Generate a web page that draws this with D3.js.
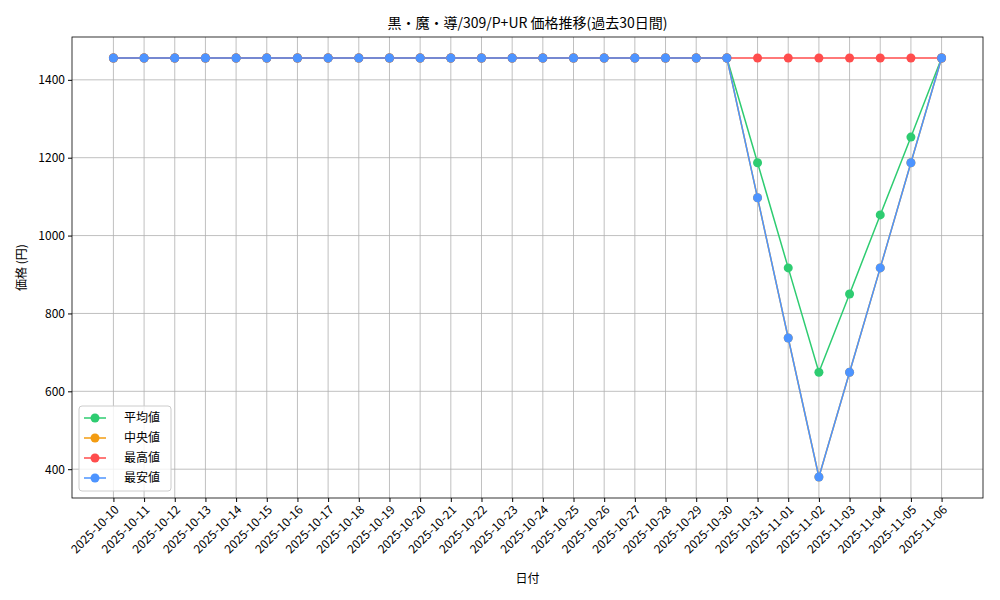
<!DOCTYPE html>
<html><head><meta charset="utf-8">
<script src="https://cdn.jsdelivr.net/npm/d3@7"></script>
<style>body{margin:0;background:#fff}text{font-family:"Noto Sans CJK JP","DejaVu Sans",sans-serif}</style>
</head><body><svg id="chart" width="1000" height="600"></svg>
<script>
// dates 2025-10-10 .. 2025-11-06
var dates = ["2025-10-10","2025-10-11","2025-10-12","2025-10-13","2025-10-14","2025-10-15","2025-10-16",
  "2025-10-17","2025-10-18","2025-10-19","2025-10-20","2025-10-21","2025-10-22","2025-10-23","2025-10-24",
  "2025-10-25","2025-10-26","2025-10-27","2025-10-28","2025-10-29","2025-10-30","2025-10-31","2025-11-01",
  "2025-11-02","2025-11-03","2025-11-04","2025-11-05","2025-11-06"];
var flat = [1456,1456,1456,1456,1456,1456,1456,1456,1456,1456,1456,1456,1456,1456,1456,1456,1456,1456,1456,1456,1456];
var avgVals = flat.concat([1187,917,649,850,1053,1253,1456]);
var medVals = flat.concat([1097,737,380,649,917,1187,1456]);
var maxVals = flat.concat([1456,1456,1456,1456,1456,1456,1456]);
var minVals = flat.concat([1097,737,380,649,917,1187,1456]);
var yTicks = [400,600,800,1000,1200,1400];

var series = [
  {name:"平均値", color:"#2ecc71", vals:avgVals},
  {name:"中央値", color:"#f39c12", vals:medVals},
  {name:"最高値", color:"#ff4d4d", vals:maxVals},
  {name:"最安値", color:"#4d94ff", vals:minVals}
];

var svg = d3.select("#chart");
var L = 72, R = 983, T = 37, B = 498;

var x = d3.scalePoint().domain(dates).range([L, R]).padding(1.35);
var y = d3.scaleLinear().domain([326, 1510]).range([B, T]);

// grid
svg.append("g").selectAll("line").data(dates).enter().append("line")
  .attr("x1", d => x(d)).attr("x2", d => x(d)).attr("y1", T).attr("y2", B)
  .attr("stroke", "#b0b0b0").attr("stroke-width", 0.8);
svg.append("g").selectAll("line").data(yTicks).enter().append("line")
  .attr("x1", L).attr("x2", R).attr("y1", d => y(d)).attr("y2", d => y(d))
  .attr("stroke", "#b0b0b0").attr("stroke-width", 0.8);

var line = d3.line().x((d, i) => x(dates[i])).y(d => y(d));
series.forEach(function(s){
  svg.append("path").datum(s.vals).attr("d", line)
    .attr("fill", "none").attr("stroke", s.color).attr("stroke-width", 1.5);
  svg.append("g").selectAll("circle").data(s.vals).enter().append("circle")
    .attr("cx", (d, i) => x(dates[i])).attr("cy", d => y(d)).attr("r", 4.5)
    .attr("fill", s.color);
});

// frame
svg.append("rect").attr("x", L).attr("y", T).attr("width", R - L).attr("height", B - T)
  .attr("fill", "none").attr("stroke", "#000").attr("stroke-width", 0.8);

// axes
var xa = svg.append("g").attr("transform", "translate(0," + B + ")")
  .call(d3.axisBottom(x).tickSize(4).tickSizeOuter(0));
xa.select(".domain").remove();
xa.selectAll("text").attr("font-size", 12).attr("text-anchor", "end")
  .attr("transform", "rotate(-45)").attr("dx", "-0.4em").attr("dy", "0.5em");
var ya = svg.append("g").attr("transform", "translate(" + L + ",0)")
  .call(d3.axisLeft(y).tickValues(yTicks).tickFormat(d3.format("d")).tickSize(4).tickSizeOuter(0));
ya.select(".domain").remove();
ya.selectAll("text").attr("font-size", 12);

svg.append("text").attr("x", (L + R) / 2).attr("y", 28).attr("text-anchor", "middle")
  .attr("font-size", 14).text("黒・魔・導/309/P+UR 価格推移(過去30日間)");
svg.append("text").attr("x", (L + R) / 2).attr("y", 583).attr("text-anchor", "middle")
  .attr("font-size", 12).text("日付");
svg.append("text").attr("transform", "translate(26," + (T + B) / 2 + ") rotate(-90)")
  .attr("text-anchor", "middle").attr("font-size", 12).text("価格 (円)");

// legend
var lg = svg.append("g").attr("transform", "translate(79,406)");
lg.append("rect").attr("width", 92).attr("height", 85).attr("rx", 3)
  .attr("fill", "#fff").attr("fill-opacity", 0.8).attr("stroke", "#ccc");
series.forEach(function(s, i){
  var g = lg.append("g").attr("transform", "translate(5," + (12 + i * 20) + ")");
  g.append("line").attr("x1", 0).attr("x2", 22).attr("stroke", s.color).attr("stroke-width", 1.5);
  g.append("circle").attr("cx", 11).attr("r", 4.5).attr("fill", s.color);
  g.append("text").attr("x", 40).attr("dy", "0.35em").attr("font-size", 12).text(s.name);
});
</script></body></html>
